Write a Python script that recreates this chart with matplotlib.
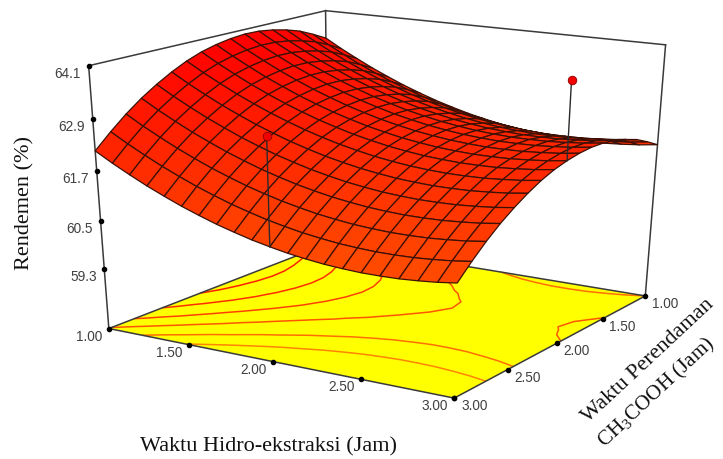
import numpy as np
import matplotlib
matplotlib.use('Agg')
import matplotlib.pyplot as plt
from matplotlib.colors import LinearSegmentedColormap
from mpl_toolkits.mplot3d import proj3d

plt.rcParams['font.family'] = 'Liberation Sans'
plt.rcParams['mathtext.fontset'] = 'custom'
plt.rcParams['mathtext.rm'] = 'Liberation Serif'

# Waktu Hidro-ekstraksi (kolom) dan Waktu Perendaman (baris)
hidro = np.linspace(1, 3, 21)
rendam = np.linspace(1, 3, 17)

# Rendemen, baris = Waktu Perendaman 1.0 ... 3.0
rendemen = [
    [63.40, 63.17, 62.96, 62.76, 62.58, 62.41, 62.26, 62.12, 62.00, 61.89, 61.80, 61.72, 61.66, 61.61, 61.58, 61.56, 61.56, 61.57, 61.60, 61.64, 61.70],
    [63.58, 63.35, 63.14, 62.94, 62.76, 62.59, 62.44, 62.30, 62.18, 62.07, 61.98, 61.90, 61.84, 61.79, 61.76, 61.74, 61.74, 61.75, 61.78, 61.82, 61.88],
    [63.74, 63.51, 63.30, 63.10, 62.92, 62.75, 62.60, 62.46, 62.34, 62.23, 62.14, 62.06, 62.00, 61.95, 61.92, 61.90, 61.90, 61.91, 61.94, 61.98, 62.04],
    [63.85, 63.62, 63.41, 63.21, 63.03, 62.86, 62.71, 62.57, 62.45, 62.34, 62.25, 62.17, 62.11, 62.06, 62.03, 62.01, 62.01, 62.02, 62.05, 62.09, 62.15],
    [63.93, 63.70, 63.49, 63.29, 63.11, 62.94, 62.79, 62.65, 62.53, 62.42, 62.33, 62.25, 62.19, 62.14, 62.11, 62.09, 62.09, 62.10, 62.13, 62.17, 62.23],
    [63.98, 63.75, 63.54, 63.34, 63.16, 62.99, 62.84, 62.70, 62.58, 62.47, 62.38, 62.30, 62.24, 62.19, 62.16, 62.14, 62.14, 62.15, 62.18, 62.22, 62.28],
    [63.99, 63.76, 63.55, 63.35, 63.17, 63.00, 62.85, 62.71, 62.59, 62.48, 62.39, 62.31, 62.25, 62.20, 62.17, 62.15, 62.15, 62.16, 62.19, 62.23, 62.29],
    [63.96, 63.73, 63.52, 63.32, 63.14, 62.97, 62.82, 62.68, 62.56, 62.45, 62.36, 62.28, 62.22, 62.17, 62.14, 62.12, 62.12, 62.13, 62.16, 62.20, 62.26],
    [63.90, 63.67, 63.46, 63.26, 63.08, 62.91, 62.76, 62.62, 62.50, 62.39, 62.30, 62.22, 62.16, 62.11, 62.08, 62.06, 62.06, 62.07, 62.10, 62.14, 62.20],
    [63.81, 63.58, 63.37, 63.17, 62.99, 62.82, 62.67, 62.53, 62.41, 62.30, 62.21, 62.13, 62.07, 62.02, 61.99, 61.97, 61.97, 61.98, 62.01, 62.05, 62.11],
    [63.68, 63.45, 63.24, 63.04, 62.86, 62.69, 62.54, 62.40, 62.28, 62.17, 62.08, 62.00, 61.94, 61.89, 61.86, 61.84, 61.84, 61.85, 61.88, 61.92, 61.98],
    [63.51, 63.28, 63.07, 62.87, 62.69, 62.52, 62.37, 62.23, 62.11, 62.00, 61.91, 61.83, 61.77, 61.72, 61.69, 61.67, 61.67, 61.68, 61.71, 61.75, 61.81],
    [63.31, 63.08, 62.87, 62.67, 62.49, 62.32, 62.17, 62.03, 61.91, 61.80, 61.71, 61.63, 61.57, 61.52, 61.49, 61.47, 61.47, 61.48, 61.51, 61.55, 61.61],
    [63.08, 62.85, 62.64, 62.44, 62.26, 62.09, 61.94, 61.80, 61.68, 61.57, 61.48, 61.40, 61.34, 61.29, 61.26, 61.24, 61.24, 61.25, 61.28, 61.32, 61.38],
    [62.81, 62.58, 62.37, 62.17, 61.99, 61.82, 61.67, 61.53, 61.41, 61.30, 61.21, 61.13, 61.07, 61.02, 60.99, 60.97, 60.97, 60.98, 61.01, 61.05, 61.11],
    [62.50, 62.27, 62.06, 61.86, 61.68, 61.51, 61.36, 61.22, 61.10, 60.99, 60.90, 60.82, 60.76, 60.71, 60.68, 60.66, 60.66, 60.67, 60.70, 60.74, 60.80],
    [62.16, 61.93, 61.72, 61.52, 61.34, 61.17, 61.02, 60.88, 60.76, 60.65, 60.56, 60.48, 60.42, 60.37, 60.34, 60.32, 60.32, 60.33, 60.36, 60.40, 60.46],
]

# titik rancangan (pin merah)
titik_hidro = [2.0, 3.0]
titik_rendam = [3.0, 2.0]
titik_atas = [63.05, 64.0]
titik_bawah = [60.56, 62.20]

level_kontur = [61.2, 61.7, 62.22, 62.7, 63.2, 63.7]
tick_hidro = [1.0, 1.5, 2.0, 2.5, 3.0]
tick_rendam = [1.0, 1.5, 2.0, 2.5, 3.0]
tick_z = [59.3, 60.5, 61.7, 62.9, 64.1]
z_lantai = 57.8
z_atas = 64.1

warna_permukaan = LinearSegmentedColormap.from_list('permukaan', ['#ff4d00', '#ff0000'])
warna_kontur = LinearSegmentedColormap.from_list('kontur', ['#ff8c00', '#ff2000'])

fig = plt.figure(figsize=(7.23, 4.59), dpi=100)
ax = fig.add_axes([0.04005, 0.0952, 0.9576, 0.9641], projection='3d', computed_zorder=False)
# kamera dicocokkan ke gambar, butuh skala x dan y berbeda
ax.apply_aspect = lambda position=None: None
ax.set_xlim(1, 3, view_margin=0)
ax.set_ylim(3, 1, view_margin=0)
ax.set_zlim(z_lantai, z_atas, view_margin=0)
ax.view_init(elev=21.19, azim=-57.77, roll=-0.158)
ax.set_proj_type('persp', focal_length=0.5716)
ax.set_box_aspect((1, 0.9867, 1.0632))
ax.set_axis_off()
ax.patch.set_alpha(0)

X, Y = np.meshgrid(hidro, rendam)
Z = np.array(rendemen)

# lantai kuning + kontur
lx, ly = np.meshgrid([1, 3], [1, 3])
ax.plot_surface(lx, ly, np.full(lx.shape, z_lantai), color='#ffff00', shade=False,
                linewidth=0, zorder=2)
ax.contour(X, Y, Z, levels=level_kontur, zdir='z', offset=z_lantai, cmap=warna_kontur,
           vmin=61, vmax=63.5, linewidths=1.1, zorder=3)

# rangka kotak
c_garis = '#3a3a3a'
rangka = [
    ([1, 1], [3, 3], [z_lantai, z_atas]),
    ([1, 1], [1, 1], [z_lantai, z_atas]),
    ([3, 3], [1, 1], [z_lantai, z_atas]),
    ([1, 1], [3, 1], [z_atas, z_atas]),
    ([1, 3], [1, 1], [z_atas, z_atas]),
    ([1, 1], [3, 1], [z_lantai, z_lantai]),
    ([1, 3], [1, 1], [z_lantai, z_lantai]),
    ([1, 3], [3, 3], [z_lantai, z_lantai]),
    ([3, 3], [3, 1], [z_lantai, z_lantai]),
]
for gx, gy, gz in rangka:
    ax.plot(gx, gy, gz, color=c_garis, lw=1.1, zorder=4)

ax.plot_surface(X, Y, Z, cmap=warna_permukaan, vmin=60.3, vmax=63.9, rstride=1, cstride=1,
                edgecolor='#3c1005', linewidth=0.9, shade=False, antialiased=True, zorder=5)

# pin
for i in range(2):
    ax.plot([titik_hidro[i]] * 2, [titik_rendam[i]] * 2, [titik_bawah[i], titik_atas[i]],
            color='#2a2a2a', lw=1.0, zorder=6)
ax.scatter(titik_hidro, titik_rendam, titik_atas, s=38, c='#f00000', edgecolors='#8a0000',
           linewidths=0.6, depthshade=False, zorder=7)

# tick dan label
M = ax.get_proj()


def tandai(x, y, z, teks, dx, dy):
    u, v, _ = proj3d.proj_transform(x, y, z, M)
    ax.plot([x], [y], [z], 'o', color='black', ms=3, zorder=8)
    ax.annotate(teks, (u, v), xytext=(dx, dy), textcoords='offset pixels', ha='center',
                va='center', fontsize=9.8, color='#404040', annotation_clip=False)


for t in tick_hidro:
    tandai(t, 3, z_lantai, f'{t:.2f}', -20, -8)
for t in tick_rendam:
    tandai(3, t, z_lantai, f'{t:.2f}', 20, -8)
for t in tick_z:
    tandai(1, 3, t, f'{t:.1f}', -21, -8)

serif = 'Liberation Serif'
fig.text(269 / 723, 1 - 447 / 459, 'Waktu Hidro-ekstraksi (Jam)', family=serif, fontsize=16,
         ha='center', va='center', color='#111111')
fig.text(25 / 723, 1 - 203 / 459, 'Rendemen (%)', family=serif, fontsize=16, rotation=90,
         ha='center', va='center', color='#111111')
fig.text(648 / 723, 1 - 361 / 459, 'Waktu Perendaman', family=serif, fontsize=16, rotation=43,
         ha='center', va='center', rotation_mode='anchor', color='#111111')
fig.text(657 / 723, 1 - 393 / 459, r'CH$_{\mathrm{3}}$COOH (Jam)', family=serif, fontsize=15.2, rotation=43,
         ha='center', va='center', rotation_mode='anchor', color='#111111')

fig.savefig('out.png', dpi=100)
